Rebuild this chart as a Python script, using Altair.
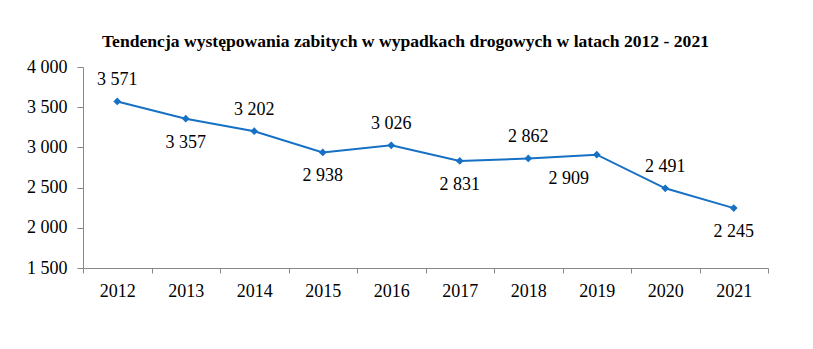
import altair as alt
import pandas as pd

years = ["2012", "2013", "2014", "2015", "2016", "2017", "2018", "2019", "2020", "2021"]
killed = [3571, 3357, 3202, 2938, 3026, 2831, 2862, 2909, 2491, 2245]

df = pd.DataFrame({"year": years, "value": killed})

above_years = ["2012", "2014", "2016", "2018", "2020"]
below_years = ["2013", "2015", "2017", "2021"]
left_below_years = ["2019"]

FONT = "Liberation Serif"
BLUE = "#1670C4"

x = alt.X("year:O", title=None, sort=years,
          scale=alt.Scale(paddingInner=0, paddingOuter=0),
          axis=alt.Axis(labelAngle=0, tickBand="extent", tickSize=5, labelPadding=9,
                        labelFont=FONT, labelFontSize=18, labelColor="#000",
                        domainColor="#888", tickColor="#888", grid=False))
y = alt.Y("value:Q", title=None,
          scale=alt.Scale(domain=[1500, 4000], nice=False, zero=False),
          axis=alt.Axis(values=[1500, 2000, 2500, 3000, 3500, 4000], tickSize=6, labelPadding=10,
                        labelExpr="replace(format(datum.value, ','), ',', ' ')",
                        labelFont=FONT, labelFontSize=18, labelColor="#000",
                        domainColor="#888", tickColor="#888", grid=False))

base = alt.Chart(df).encode(x=x, y=y).transform_calculate(
    lbl="replace(format(datum.value, ','), ',', ' ')")

line = base.mark_line(color=BLUE, strokeWidth=2)
pts = base.mark_point(shape="diamond", filled=True, color=BLUE, size=60, opacity=1)

txt_kw = dict(font=FONT, fontSize=18, color="#000")
above = base.transform_filter(alt.FieldOneOfPredicate(field="year", oneOf=above_years)).mark_text(
    dy=-21, **txt_kw).encode(text="lbl:N")
below = base.transform_filter(alt.FieldOneOfPredicate(field="year", oneOf=below_years)).mark_text(
    dy=24, **txt_kw).encode(text="lbl:N")
left_below = base.transform_filter(alt.FieldOneOfPredicate(field="year", oneOf=left_below_years)).mark_text(
    dy=24, dx=-28, **txt_kw).encode(text="lbl:N")

chart = alt.layer(line, pts, above, below, left_below).properties(
    width=685, height=201,
    background="white",
    autosize=alt.AutoSizeParams(type="none"),
    padding={"left": 83, "top": 67, "right": 45, "bottom": 81},
    title=alt.TitleParams("Tendencja występowania zabitych w wypadkach drogowych w latach 2012 - 2021",
                          font=FONT, fontSize=17.6, fontWeight="bold", color="#000",
                          anchor="middle", dx=-20, offset=7),
).configure_view(strokeWidth=0).configure_text(font=FONT).configure_axis(labelFont=FONT)

chart.save("out.html", embed_options={"renderer": "svg", "actions": False})
